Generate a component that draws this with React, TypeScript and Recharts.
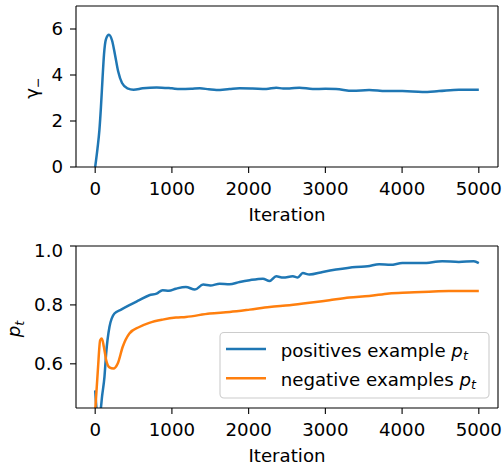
import React from 'react';
import { LineChart, Line, XAxis, YAxis, ReferenceLine, Customized } from 'recharts';

const FONT = 'DejaVu Sans';
const FS = 18.2;
const SUB = 12.7;
const BLUE = '#1f77b4';
const ORANGE = '#ff7f0e';

const xTicks = [0, 1000, 2000, 3000, 4000, 5000];
const gammaTicks = [0, 2, 4, 6];
const ptTicks = [0.6, 0.8, 1.0];

const gammaIter = [0, 30, 55, 75, 95, 115, 140, 180, 220, 260, 300, 350, 420, 500, 619, 800, 1000, 1104, 1250, 1364, 1480, 1580, 1750, 1883, 2050, 2230, 2360, 2450, 2532, 2662, 2835, 3000, 3139, 3355, 3571, 3788, 4004, 4264, 4481, 4740, 5000];
const gammaVals = [0, 0.8, 1.6, 2.6, 3.8, 4.9, 5.55, 5.75, 5.5, 4.85, 4.15, 3.65, 3.42, 3.36, 3.42, 3.46, 3.42, 3.39, 3.4, 3.42, 3.38, 3.35, 3.39, 3.42, 3.41, 3.39, 3.45, 3.41, 3.41, 3.45, 3.39, 3.4, 3.39, 3.31, 3.35, 3.3, 3.3, 3.26, 3.3, 3.36, 3.36];

const posIter = [0, 20, 45, 70, 90, 121, 143, 186, 251, 338, 446, 575, 705, 800, 879, 960, 1052, 1182, 1299, 1407, 1500, 1623, 1750, 1883, 2013, 2186, 2273, 2359, 2450, 2576, 2640, 2706, 2792, 2965, 3139, 3398, 3550, 3701, 3850, 4004, 4264, 4524, 4740, 4935, 5000];
const posVals = [0.51, 0.44, 0.41, 0.44, 0.49, 0.556, 0.635, 0.725, 0.771, 0.784, 0.799, 0.816, 0.833, 0.838, 0.85, 0.848, 0.855, 0.861, 0.852, 0.869, 0.866, 0.872, 0.87, 0.878, 0.884, 0.889, 0.881, 0.897, 0.893, 0.897, 0.893, 0.908, 0.903, 0.912, 0.92, 0.929, 0.931, 0.938, 0.936, 0.942, 0.942, 0.948, 0.946, 0.948, 0.942];

const negIter = [0, 35, 65, 87, 113, 143, 186, 238, 294, 359, 446, 575, 705, 879, 1052, 1182, 1494, 1753, 2013, 2273, 2532, 2792, 3052, 3312, 3571, 3831, 4091, 4351, 4610, 5000];
const negVals = [0.44, 0.579, 0.68, 0.686, 0.658, 0.613, 0.588, 0.584, 0.601, 0.658, 0.703, 0.725, 0.739, 0.75, 0.757, 0.759, 0.771, 0.776, 0.784, 0.793, 0.799, 0.807, 0.816, 0.825, 0.83, 0.839, 0.842, 0.845, 0.847, 0.847];

const legendLabels = ['positives example ', 'negative examples '];

const gammaData = gammaIter.map((x, i) => ({ x, y: gammaVals[i] }));
const posData = posIter.map((x, i) => ({ x, y: posVals[i] }));
const negData = negIter.map((x, i) => ({ x, y: negVals[i] }));

const tickStyle = { fill: '#000', fontSize: FS, fontFamily: FONT };
const lineStyle = { stroke: '#000', strokeWidth: 1.1 };

const xLabel = (props: any) => {
  const vb = props.viewBox || {};
  return (
    <text x={vb.x + vb.width / 2} y={vb.y + 54} textAnchor="middle" fontFamily={FONT} fontSize={FS} fill="#000">
      Iteration
    </text>
  );
};

const gammaLabel = (props: any) => {
  const vb = props.viewBox || {};
  const cy = vb.y + vb.height / 2 + 1.5;
  const cx = 38;
  return (
    <text x={cx} y={cy} transform={`rotate(-90 ${cx} ${cy})`} textAnchor="middle" fontFamily={FONT} fontSize={FS} fill="#000">
      <tspan>γ</tspan>
      <tspan dy={4} fontSize={SUB}>−</tspan>
    </text>
  );
};

const ptLabel = (props: any) => {
  const vb = props.viewBox || {};
  const cy = vb.y + vb.height / 2 + 2;
  const cx = 20;
  return (
    <text x={cx} y={cy} transform={`rotate(-90 ${cx} ${cy})`} textAnchor="middle" fontFamily={FONT} fontSize={FS} fill="#000" fontStyle="italic">
      <tspan>p</tspan>
      <tspan dy={3.5} fontSize={SUB}>t</tspan>
    </text>
  );
};

const LegendBox = () => {
  const bx = 220;
  const by = 92.5;
  const colors = [BLUE, ORANGE];
  return (
    <g>
      <rect x={bx} y={by} width={269} height={65.5} rx={4} ry={4} fill="rgba(255,255,255,0.8)" stroke="#cccccc" strokeWidth={1.1} />
      {legendLabels.map((lab, i) => {
        const ly = by + 16.5 + i * 29.3;
        return (
          <g key={lab}>
            <line x1={bx + 6} x2={bx + 46} y1={ly} y2={ly} stroke={colors[i]} strokeWidth={2.6} />
            <text x={bx + 60.7} y={ly + 7.5} fontFamily={FONT} fontSize={FS} fill="#000">
              <tspan>{lab}</tspan>
              <tspan fontStyle="italic">p</tspan>
              <tspan fontStyle="italic" fontSize={SUB} dy={3.5}>t</tspan>
            </text>
          </g>
        );
      })}
    </g>
  );
};

export default function App() {
  return (
    <div style={{ position: 'absolute', left: 0, top: 0, width: 503, height: 466, background: '#fff' }}>
      <div style={{ position: 'absolute', left: 0, top: 0 }}>
        <LineChart width={503} height={230} margin={{ top: 6, right: 5, left: 0, bottom: 0 }}>
          <XAxis
            dataKey="x"
            type="number"
            domain={[-250, 5250]}
            ticks={xTicks}
            tickSize={6}
            tickMargin={9}
            tick={tickStyle}
            tickLine={lineStyle}
            axisLine={lineStyle}
            height={63}
            allowDataOverflow
            label={{ content: xLabel }}
          />
          <YAxis
            type="number"
            domain={[0, 7]}
            ticks={gammaTicks}
            tickSize={6}
            tickMargin={7}
            tick={tickStyle}
            tickLine={lineStyle}
            axisLine={lineStyle}
            width={76}
            allowDataOverflow
            label={{ content: gammaLabel }}
          />
          <ReferenceLine y={7} stroke="#000" strokeWidth={1.1} />
          <ReferenceLine x={5250} stroke="#000" strokeWidth={1.1} />
          <Line data={gammaData} dataKey="y" type="monotone" stroke={BLUE} strokeWidth={2.5} dot={false} isAnimationActive={false} />
        </LineChart>
      </div>
      <div style={{ position: 'absolute', left: 0, top: 240 }}>
        <LineChart width={503} height={226} margin={{ top: 6, right: 5, left: 0, bottom: 0 }}>
          <XAxis
            dataKey="x"
            type="number"
            domain={[-250, 5250]}
            ticks={xTicks}
            tickSize={6}
            tickMargin={9}
            tick={tickStyle}
            tickLine={lineStyle}
            axisLine={lineStyle}
            height={58}
            allowDataOverflow
            label={{ content: xLabel }}
          />
          <YAxis
            type="number"
            domain={[0.45, 1.0]}
            ticks={ptTicks}
            tickFormatter={(v: number) => v.toFixed(1)}
            tickSize={6}
            tickMargin={7}
            tick={tickStyle}
            tickLine={lineStyle}
            axisLine={lineStyle}
            width={76}
            allowDataOverflow
            label={{ content: ptLabel }}
          />
          <ReferenceLine y={1.0} stroke="#000" strokeWidth={1.1} />
          <ReferenceLine x={5250} stroke="#000" strokeWidth={1.1} />
          <Line data={posData} dataKey="y" type="monotone" stroke={BLUE} strokeWidth={2.5} dot={false} isAnimationActive={false} />
          <Line data={negData} dataKey="y" type="monotone" stroke={ORANGE} strokeWidth={2.5} dot={false} isAnimationActive={false} />
          <Customized component={LegendBox} />
        </LineChart>
      </div>
    </div>
  );
}
